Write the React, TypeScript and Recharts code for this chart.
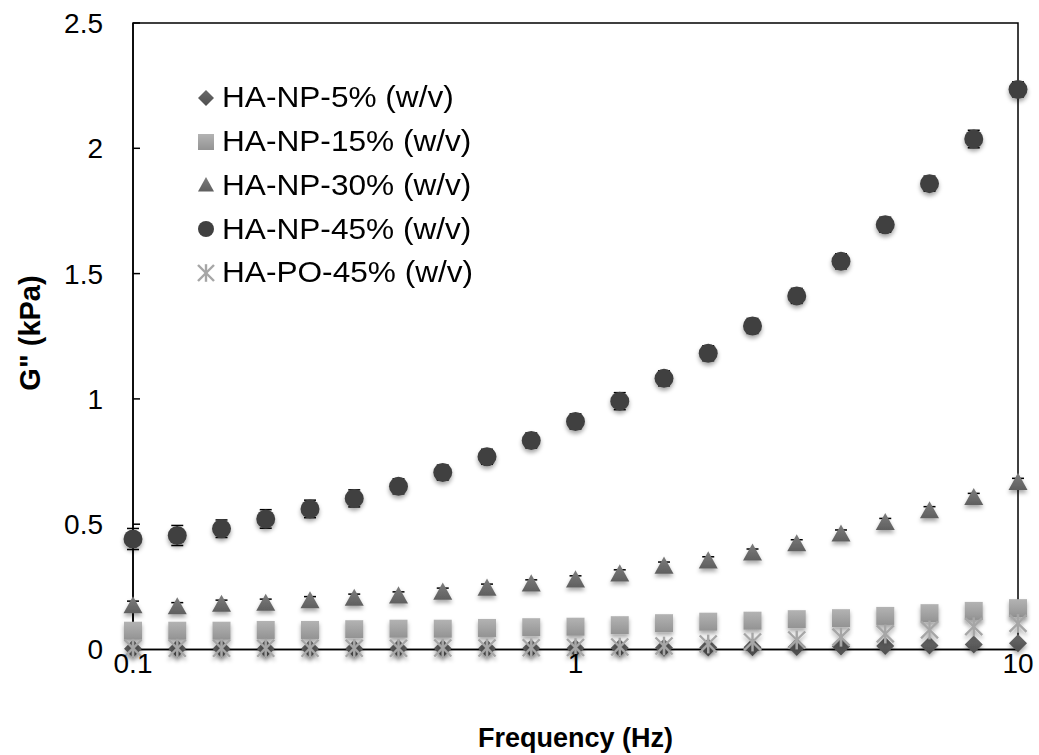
import React from "react";
import { ScatterChart, Scatter, XAxis, YAxis, Legend, ReferenceArea, ErrorBar, Label } from "recharts";

// frequency sweep, 10 points per decade
const freqs = [
  0.1, 0.1259, 0.1585, 0.1995, 0.2512, 0.3162, 0.3981, 0.5012, 0.631, 0.7943,
  1, 1.259, 1.585, 1.995, 2.512, 3.162, 3.981, 5.012, 6.31, 7.943, 10,
];

// G'' in kPa
const np5 = [
  0.003, 0.003, 0.003, 0.003, 0.003, 0.003, 0.004, 0.004, 0.004, 0.005,
  0.005, 0.006, 0.007, 0.008, 0.009, 0.01, 0.012, 0.014, 0.016, 0.02, 0.025,
];
const np15 = [
  0.075, 0.075, 0.075, 0.078, 0.078, 0.081, 0.083, 0.083, 0.086, 0.089,
  0.091, 0.097, 0.105, 0.111, 0.115, 0.121, 0.125, 0.134, 0.145, 0.154, 0.165,
];
const np30 = [
  0.175, 0.171, 0.181, 0.185, 0.195, 0.205, 0.214, 0.229, 0.245, 0.262,
  0.278, 0.302, 0.333, 0.354, 0.385, 0.422, 0.461, 0.507, 0.554, 0.607, 0.667,
];
const np45 = [
  0.441, 0.455, 0.482, 0.521, 0.561, 0.603, 0.651, 0.706, 0.769, 0.834,
  0.91, 0.991, 1.082, 1.182, 1.291, 1.411, 1.549, 1.695, 1.859, 2.037, 2.235,
];
const po45 = [
  0.005, 0.005, 0.005, 0.005, 0.005, 0.005, 0.005, 0.006, 0.006, 0.007,
  0.008, 0.01, 0.014, 0.022, 0.03, 0.038, 0.049, 0.062, 0.078, 0.091, 0.104,
];

// standard deviations
const np45Err = [
  0.042, 0.04, 0.035, 0.037, 0.035, 0.034, 0.03, 0.03, 0.03, 0.03,
  0.03, 0.034, 0.03, 0.03, 0.03, 0.03, 0.03, 0.03, 0.03, 0.035, 0.03,
];
const np30Err = [
  0.018, 0.016, 0.016, 0.016, 0.016, 0.016, 0.016, 0.016, 0.016, 0.016,
  0.016, 0.016, 0.016, 0.016, 0.016, 0.016, 0.016, 0.016, 0.016, 0.016, 0.016,
];

const xTicks = [0.1, 1, 10];
const yTicks = [0, 0.5, 1, 1.5, 2, 2.5];

const FONT = '"Liberation Sans", Arial, sans-serif';

const toPoints = (vals: number[], errs?: number[]) =>
  freqs.map((f, i) => ({ f, v: vals[i], e: errs ? errs[i] : 0 }));

const Diamond = ({ cx, cy, s = 9 }: any) => (
  <path
    d={`M${cx},${cy - s}L${cx + s},${cy}L${cx},${cy + s}L${cx - s},${cy}Z`}
    fill="url(#gDiamond)"
  />
);
const Square = ({ cx, cy, s = 9 }: any) => (
  <rect x={cx - s} y={cy - s} width={2 * s} height={2 * s} fill="url(#gSquare)" />
);
const Triangle = ({ cx, cy, s = 9.5 }: any) => (
  <path
    d={`M${cx},${cy - s}L${cx + s},${cy + s * 0.8}L${cx - s},${cy + s * 0.8}Z`}
    fill="url(#gTriangle)"
  />
);
const Dot = ({ cx, cy, s = 9.5 }: any) => <circle cx={cx} cy={cy} r={s} fill="#404040" />;
const Star = ({ cx, cy, s = 8.5 }: any) => (
  <g stroke="#a6a6a6" strokeWidth={2.4}>
    <line x1={cx - s} y1={cy - s} x2={cx + s} y2={cy + s} />
    <line x1={cx - s} y1={cy + s} x2={cx + s} y2={cy - s} />
    <line x1={cx} y1={cy - s * 1.1} x2={cx} y2={cy + s * 1.1} />
  </g>
);

const series = [
  { name: "HA-NP-5% (w/v)", data: toPoints(np5), Marker: Diamond, err: false },
  { name: "HA-NP-15% (w/v)", data: toPoints(np15), Marker: Square, err: false },
  { name: "HA-NP-30% (w/v)", data: toPoints(np30, np30Err), Marker: Triangle, err: true },
  { name: "HA-NP-45% (w/v)", data: toPoints(np45, np45Err), Marker: Dot, err: true },
  { name: "HA-PO-45% (w/v)", data: toPoints(po45), Marker: Star, err: false },
];

const LegendBox = () => (
  <div style={{ fontFamily: FONT, fontSize: 29, color: "#000" }}>
    {series.map((s) => (
      <div key={s.name} style={{ display: "flex", alignItems: "center", height: 43.75 }}>
        <svg width={20} height={20} style={{ marginRight: 6 }}>
          <s.Marker cx={10} cy={10} s={8} />
        </svg>
        <span
          style={{
            whiteSpace: "nowrap",
            display: "inline-block",
            transform: "scaleX(1.09)",
            transformOrigin: "0 50%",
          }}
        >
          {s.name}
        </span>
      </div>
    ))}
  </div>
);

const Nothing = () => <g />;

const App = () => {
  return (
    <div style={{ position: "absolute", left: 0, top: 0, width: 1039, height: 755, background: "#fff" }}>
      <svg width={0} height={0} style={{ position: "absolute" }}>
        <defs>
          <filter id="mshadow" x="-50%" y="-50%" width="200%" height="200%">
            <feDropShadow dx={0} dy={3} stdDeviation={2} floodColor="#000" floodOpacity={0.35} />
          </filter>
          <linearGradient id="gDiamond" x1="0" y1="0" x2="0" y2="1">
            <stop offset="0%" stopColor="#6a6a6a" />
            <stop offset="100%" stopColor="#4e4e4e" />
          </linearGradient>
          <linearGradient id="gSquare" x1="0" y1="0" x2="0" y2="1">
            <stop offset="0%" stopColor="#b3b3b3" />
            <stop offset="100%" stopColor="#939393" />
          </linearGradient>
          <linearGradient id="gTriangle" x1="0" y1="0" x2="0" y2="1">
            <stop offset="0%" stopColor="#7d7d7d" />
            <stop offset="100%" stopColor="#5f5f5f" />
          </linearGradient>
        </defs>
      </svg>
      <ScatterChart width={1039} height={755} margin={{ top: 23, right: 21, bottom: 0, left: 0 }}>
        <XAxis
          type="number"
          dataKey="f"
          scale="log"
          domain={[0.1, 10]}
          ticks={xTicks}
          height={105.5}
          axisLine={{ stroke: "#000", strokeWidth: 1.5 }}
          tickLine={false}
          tickSize={0}
          tickMargin={4}
          tick={{ fill: "#000", fontSize: 28, fontFamily: FONT }}
          tickFormatter={(v: number) => String(v)}
        >
          <Label
            content={() => (
              <text x={575.5} y={747} textAnchor="middle" fontFamily={FONT} fontWeight="bold" fontSize={27} fill="#000">
                Frequency (Hz)
              </text>
            )}
          />
        </XAxis>
        <YAxis
          type="number"
          dataKey="v"
          domain={[0, 2.5]}
          ticks={yTicks}
          width={133}
          axisLine={{ stroke: "#000", strokeWidth: 1.5 }}
          tickLine={{ stroke: "#000", strokeWidth: 1.5 }}
          tickSize={-7}
          tickMargin={37}
          tick={{ fill: "#000", fontSize: 28, fontFamily: FONT }}
        >
          <Label
            content={() => (
              <text
                x={40}
                y={333}
                transform="rotate(-90 40 333)"
                textAnchor="middle"
                fontFamily={FONT}
                fontWeight="bold"
                fontSize={29}
                fill="#000"
              >
                G" (kPa)
              </text>
            )}
          />
        </YAxis>
        <ReferenceArea x1={0.1} x2={10} y1={0} y2={2.5} fill="none" stroke="#000" strokeWidth={1.5} />
        <Legend
          layout="vertical"
          align="center"
          verticalAlign="middle"
          wrapperStyle={{ left: 196, top: 76, width: 320 }}
          content={() => <LegendBox />}
        />
        {/* error bars first so the markers sit on top of them */}
        {series
          .filter((s) => s.err)
          .map((s) => (
            <Scatter
              key={`${s.name}-err`}
              data={s.data}
              isAnimationActive={false}
              legendType="none"
              shape={<Nothing />}
            >
              <ErrorBar dataKey="e" direction="y" width={6} stroke="#000" strokeWidth={1.5} isAnimationActive={false} />
            </Scatter>
          ))}
        {series.map((s) => (
          <Scatter
            key={s.name}
            name={s.name}
            data={s.data}
            isAnimationActive={false}
            shape={(p: any) => (
              <g filter="url(#mshadow)">
                <s.Marker cx={p.cx} cy={p.cy} />
              </g>
            )}
          />
        ))}
      </ScatterChart>
    </div>
  );
};

export default App;
